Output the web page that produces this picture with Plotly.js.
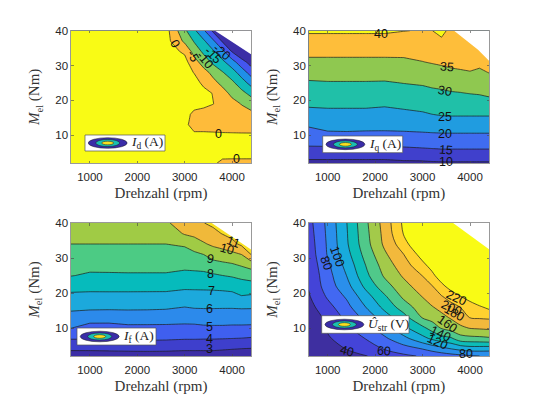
<!DOCTYPE html>
<html><head><meta charset="utf-8">
<script src="https://cdn.plot.ly/plotly-3.0.1.min.js"></script>
<style>html,body{margin:0;padding:0;background:#fff}#c{width:541px;height:406px}</style>
</head><body><div id="c"></div>
<script>
const speed = [600,1000,1400,1800,2200,2600,3000,3200,3400,3600,3800,4000,4200,4400];
const torque = [2,4,7,10,13,16,19,22,25,28,31,34,37,40];

const idValues = [
[1,1,1,1,1,1,1,1,1,0.3,-0.4,-0.6,-0.6,-0.6],
[1,1,1,1,1,1,1,1,1,1,0.3,0.4,0.4,0.4],
[1,1,1,1,1,1,1,1,1,1,1,1,1,1],
[2,2,2,2,2,2,1,0.4,0.5,0.5,0.5,0.5,0.5,0.5],
[2,2,2,2,2,2,0.5,-0.8,-1,-1.2,-1.5,-1.7,-1.9,-2],
[2,2,2,2,2,2,1.5,-1,-1.5,-2,-2.5,-3,-3.4,-3.8],
[2,2,2,2,2,2,2.5,1.5,1,0.1,-1.6,-3.4,-5.2,-7],
[2,2,2,2,2,2,2.5,2.5,1.5,-0.2,-3.1,-6.2,-8.5,-11.4],
[2,2,2,2,2,2,2.5,1.8,-1,-3.6,-6.3,-8.9,-12.6,-16.7],
[2,2,2,2,2,2,2,-0.2,-3.2,-6.4,-9.7,-12.8,-17.3,-22],
[2,2,2,2,2,2,1.5,-3,-7.3,-11.1,-13.9,-18,-23,-27],
[2,2,2,2,2,2,-0.7,-6.9,-11,-14.3,-18.8,-25.3,-29.5,-34],
[2,2,2,2,2,2,-6,-10.4,-14.2,-19,-25.7,-32,-38,-44],
[2,2,2,2,2,2,-9,-14,-19.2,-26,-33,-40,-47,-54]];

const iqValues = [
[8.7,8.7,8.7,8.7,8.7,9.1,9.2,9.4,9.5,9.5,9.5,9.5,9.5,9.5],
[11.3,11.3,11.3,11.3,11.3,11.7,11.9,12.2,12.4,12.4,12.4,12.4,12.4,12.4],
[15.2,15.3,15.3,15.3,15.4,15.5,15.9,16.1,16.3,16.3,16.3,16.3,16.3,16.3],
[17.9,19,19.1,18.9,18.9,19,19.2,19.3,19.4,19.4,19.4,19.4,19.4,19.4],
[20.6,21.6,21.7,21.6,21.5,21.7,22,22.3,22.5,22.6,22.6,22.6,22.6,22.6],
[23.4,23.8,23.8,23.8,23.5,24,24.5,25,25.4,25.5,25.5,25.5,25.5,25.5],
[25.8,25.9,25.9,25.9,25.6,26.1,26.6,27.1,27.4,27.6,27.6,27.7,28,28.4],
[27.6,27.8,27.8,27.8,27.6,28.1,28.5,28.9,29.2,29.6,29.8,30.1,30.3,30.8],
[29.5,29.7,29.7,29.7,29.6,30.1,30.5,31,31.3,31.8,32,32.4,32.3,33],
[31.6,31.8,31.8,31.8,31.8,31.8,32.7,33.2,33.6,34,34.4,34.8,34.3,35.1],
[34,34,34,34,34,34.1,34.9,35.3,35.7,36.3,36.5,36.4,36,37],
[36.2,36.2,36.2,36.2,36.2,36.2,36.5,36.8,37.5,37.5,37.5,37.5,37.5,38],
[38.4,38.4,38.4,38.4,38.4,38.4,38.2,38.3,39.4,38.6,38.6,38.6,38.6,38.6],
[40.6,40.6,40.6,40.6,40.6,40.1,39.8,39.95,41,39,39,39,39,39]];

const ifValues = [
[2.5,2.5,2.5,2.5,2.5,2.5,2.5,2.5,2.5,2.5,2.45,2.4,2.35,2.3],
[3.15,3.15,3.19,3.23,3.26,3.23,3.15,3.15,3.15,3.15,3.09,3.03,2.97,2.94],
[4.06,4.06,4.08,4.13,4.15,4.13,4.07,4.07,4.05,4.05,4.03,4,3.97,3.91],
[5.02,4.65,4.65,4.77,4.77,4.77,4.75,4.75,4.82,4.84,4.84,4.81,4.81,4.79],
[5.65,5.41,5.4,5.5,5.49,5.46,5.39,5.43,5.48,5.49,5.48,5.47,5.47,5.47],
[6.23,6.23,6.21,6.2,6.19,6.15,6,6.08,6.09,6.09,6.08,6.08,6.11,6.1],
[6.75,6.75,6.75,6.75,6.74,6.73,6.61,6.64,6.65,6.65,6.65,6.68,6.95,6.87],
[7.38,7.3,7.31,7.31,7.31,7.31,7.2,7.2,7.21,7.23,7.29,7.38,7.57,7.6],
[8.04,7.87,7.88,7.9,7.9,7.9,7.76,7.76,7.77,7.87,8,8.1,8.25,8.42],
[8.36,8.28,8.29,8.29,8.29,8.29,8.23,8.29,8.37,8.62,8.75,8.87,9.1,9.38],
[8.68,8.64,8.64,8.64,8.64,8.64,8.64,8.8,9,9.43,9.59,9.74,10,11],
[9,9,9,9,9,9,9.13,9.5,9.9,10.18,10.37,10.72,11.2,11.5],
[9.35,9.35,9.35,9.35,9.35,9.35,10.1,10.25,10.45,10.73,11.05,11.3,11.5,11.7],
[9.7,9.7,9.7,9.7,9.7,9.85,10.5,10.8,10.98,11.2,11.4,11.6,11.8,11.9]];

const ustrValues = [
[4,16,28,39,49,56,62,65,69,72,75,78,80,81],
[8,30,40.7,50.5,61,71,80.2,87,93,99.4,105,109,109,108],
[14,37.5,49.6,60.5,76.6,94,114.2,123.4,131.9,137,152,154,155,157],
[20,42.7,56.3,72.8,91.3,115.3,135.3,148,161.9,168.8,175.8,181,182.5,183.8],
[27,45.4,64.7,85.8,110.6,132.2,161.5,168,174.8,182,191.6,200.7,202,203],
[33,53.2,73.8,100,125.6,150,171,178.9,186,193,200.4,208.8,217.3,225],
[37.9,62.7,82.8,111.7,137.1,164,180.7,189.6,198.6,208.8,219.4,230,240,250],
[41.5,69.8,93.2,124.8,151.8,173,190.7,199.3,214.9,229,240,250,260,270],
[43.4,72.5,100.3,134.7,162.8,182.7,200.6,214.9,231.6,243,253,263,273,283],
[45.3,76.3,106.6,140.2,169.3,191.1,214.8,228,242,254,264,274,284,294],
[47.2,81.5,113,146.8,176.6,199.6,228.5,244,258,270,280,290,300,310],
[49,82.7,117.3,152.2,183.9,211.3,245,260,275,285,295,305,315,325],
[51,83.8,118.4,154.1,186.1,221.2,255,272,287,297,307,317,327,337],
[53,84.9,119.5,155.9,188,224,258,275,290,300,310,320,330,340]];

const idColors = ['#3C2EA6','#4456F0','#1F8FE8','#0FBBB8','#82CC5F','#FEBB3A','#F9FB15'];
const iqColors = ['#3A2D9F','#4040CC','#3F6CF0','#209CE0','#20C0A8','#8FC850','#FEBE3A','#F9FB15'];
const ifColors = ['#3C2EA6','#3E3FCC','#3F5FEF','#2C8AEB','#1CA9DC','#06BBBC','#4CCB84','#A0CB45','#F0B93A','#F9E020'];
const uColors = ['#3E2FA0','#4444D8','#4268F2','#2A8FEB','#18ABDC','#0DBDB8','#50C98A','#A3CA4A','#F2B93C','#FFD12F','#F9FB15'];

const idLabels = {x:[2795,3168,3429,3590,3780,3717,4097],y:[36.1,32.6,31.6,33,34,10.4,3.2],t:['0','-5','-10','-15','-20','0','0'],a:[60,60,50,45,40,0,0]};
const iqLabels = {x:[2121,3523,3467,3467,3467,3488,3488],y:[39,29.5,22.8,15.1,10.4,5.8,2.2],t:['40','35','30','25','20','15','10'],a:[0,3,10,0,0,5,0]};
const ifLabels = {x:[4027,3886,3555,3548,3562,3534,3534,3527,3527],y:[34.7,32.6,29.7,25.4,20.7,15.5,10.4,6.8,3.9],t:['11','10','9','8','7','6','5','4','3'],a:[20,15,10,0,0,0,0,0,0]};
const uLabels = {x:[1210,965,1399,2185,3923,3313,3383,3524,3664,3608,3713],y:[30.4,28.5,3.5,3.4,2.6,6,8.3,11.2,14.3,15.7,18.6],t:['100','80','40','60','80','120','140','160','180','200','220'],a:[70,70,15,5,0,25,25,35,30,25,25]};

const corners = [
 {x:[3640,4400,4400],y:[40,33.2,40]},
 {x:[3664,4169,4400,4400],y:[40,34.5,31.4,40]},
 {x:[3570,4400,4400],y:[40,32.4,40]},
 {x:[3643,4400,4400],y:[40,32.5,40]}];

const legendNames = ['<i>I</i><sub>d</sub> (A)','<i>I</i><sub>q</sub> (A)','<i>I</i><sub>f</sub> (A)','<i>Û</i><sub>str</sub> (V)'];
const legendBoxes = [[85,135,165,151],[322.7,136,402.7,152.7],[77,328,156,345],[321.7,315.7,409,333.3]];

const W=541,H=406;
const plotX=[[71,251],[308.7,489],[71,251],[308.7,489]];
const plotY=[[30.7,163],[30.7,163],[223,356],[223,356]];
const serif='"Liberation Serif",serif', sans='"Liberation Sans",Arial,sans-serif', ink='#262626';

const panels=[
 {z:idValues,c:idColors,s:-25,e:0,d:5,l:idLabels,sm:0},
 {z:iqValues,c:iqColors,s:10,e:40,d:5,l:iqLabels,sm:0},
 {z:ifValues,c:ifColors,s:3,e:11,d:1,l:ifLabels,sm:0},
 {z:ustrValues,c:uColors,s:40,e:220,d:20,l:uLabels,sm:0.9}];

const traces=[],annotations=[],shapes=[];
const layout={width:W,height:H,margin:{l:0,r:0,t:0,b:0},paper_bgcolor:'#fff',plot_bgcolor:'#fff',showlegend:false,font:{family:sans,color:ink}};
const px=v=>v/W, py=v=>1-v/H;

panels.forEach((p,i)=>{
 const n=i?String(i+1):'';
 traces.push({type:'contour',x:speed,y:torque,z:p.z,xaxis:'x'+n,yaxis:'y'+n,showscale:false,autocontour:false,hoverinfo:'skip',
  contours:{coloring:'fill',start:p.s,end:p.e,size:p.d,showlines:true},
  colorscale:p.c.map((col,k)=>[k/(p.c.length-1),col]),
  line:{color:'#1c1c1c',width:0.7,smoothing:p.sm}});
 traces.push({type:'scatter',mode:'none',x:corners[i].x,y:corners[i].y,fill:'toself',fillcolor:'#fff',xaxis:'x'+n,yaxis:'y'+n,hoverinfo:'skip'});
 const axis={showgrid:false,zeroline:false,showline:true,mirror:'ticks',linecolor:'#555',linewidth:0.6,ticks:'inside',ticklen:2.5,tickwidth:0.6,tickcolor:'#444',
   tickfont:{family:sans,size:11.5,color:ink}};
 layout['xaxis'+n]=Object.assign({},axis,{domain:[px(plotX[i][0]),px(plotX[i][1])],range:[600,4400],tickvals:[1000,2000,3000,4000],ticktext:['1000','2000','3000','4000'],anchor:'y'+n,ticklabelstandoff:4,
   title:{text:'Drehzahl (rpm)',font:{family:serif,size:15,color:'#333'},standoff:4}});
 layout['yaxis'+n]=Object.assign({},axis,{domain:[py(plotY[i][1]),py(plotY[i][0])],range:[2,40],tickvals:[10,20,30,40],ticktext:['10','20','30','40'],anchor:'x'+n,
   title:{text:'<i>M</i><sub>el</sub> (Nm)',font:{family:serif,size:15,color:'#333'},standoff:11}});
 p.l.t.forEach((t,k)=>annotations.push({xref:'x'+n,yref:'y'+n,x:p.l.x[k],y:p.l.y[k],text:t,textangle:p.l.a[k],showarrow:false,font:{family:sans,size:12.5,color:'#111'},borderpad:0}));
 const b=legendBoxes[i];
 shapes.push({type:'rect',xref:'paper',yref:'paper',x0:px(b[0]),x1:px(b[2]),y0:py(b[3]),y1:py(b[1]),fillcolor:'#fff',line:{color:'#555',width:0.7},layer:'above'});
 const cx=b[0]+22.7, cy=(b[1]+b[3])/2;
 [[19.5,5.3,'#3A2DA8'],[12,3.5,'#1BBFB0'],[6,1.8,'#F9E020']].forEach(e=>shapes.push({type:'circle',xref:'paper',yref:'paper',x0:px(cx-e[0]),x1:px(cx+e[0]),y0:py(cy+e[1]),y1:py(cy-e[1]),fillcolor:e[2],line:{color:'#1c1c1c',width:0.5},layer:'above'}));
 annotations.push({xref:'paper',yref:'paper',x:px(b[0]+44),y:py(cy),xanchor:'left',yanchor:'middle',text:legendNames[i],showarrow:false,font:{family:serif,size:13.5,color:'#222'}});
});
layout.annotations=annotations;layout.shapes=shapes;
Plotly.newPlot('c',traces,layout,{staticPlot:true,displayModeBar:false});
</script></body></html>
